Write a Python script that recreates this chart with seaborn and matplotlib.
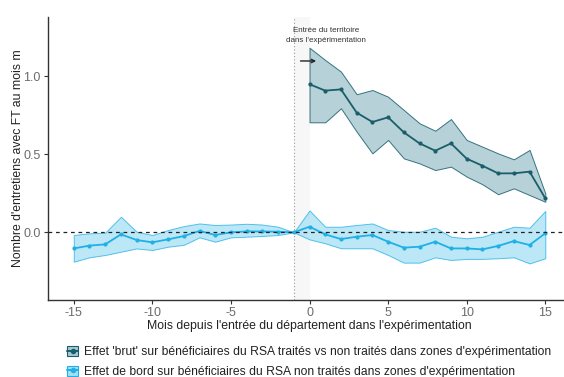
import numpy as np
import pandas as pd
import seaborn as sns
import matplotlib.pyplot as plt
from matplotlib.patches import Patch
from matplotlib.lines import Line2D

# data
mois_brut = list(range(0, 16))
effet_brut = [0.949, 0.908, 0.916, 0.767, 0.707, 0.737, 0.641, 0.570,
              0.523, 0.570, 0.472, 0.427, 0.378, 0.378, 0.389, 0.218]
brut_haut = [1.183, 1.104, 1.030, 0.885, 0.912, 0.869, 0.784, 0.699,
             0.651, 0.726, 0.592, 0.549, 0.506, 0.468, 0.528, 0.250]
brut_bas = [0.705, 0.705, 0.795, 0.645, 0.506, 0.592, 0.474, 0.442,
            0.399, 0.421, 0.357, 0.308, 0.244, 0.282, 0.239, 0.196]

mois_bord = list(range(-15, 16))
effet_bord = [-0.103, -0.085, -0.077, -0.013, -0.049, -0.064, -0.045, -0.024,
              0.009, -0.017, 0.000, 0.006, 0.006, 0.004, 0.000,
              0.036, -0.013, -0.043, -0.028, -0.017, -0.060, -0.098, -0.092,
              -0.060, -0.103, -0.103, -0.109, -0.087, -0.056, -0.081, -0.006]
bord_haut = [-0.017, -0.006, -0.002, 0.100, 0.004, -0.017, 0.015, 0.040,
             0.057, 0.047, 0.050, 0.055, 0.050, 0.036, 0.000,
             0.140, 0.036, 0.036, 0.047, 0.057, 0.015, 0.004, 0.004,
             0.030, -0.028, -0.038, -0.028, 0.004, 0.036, 0.030, 0.137]
bord_bas = [-0.188, -0.160, -0.145, -0.124, -0.103, -0.113, -0.092, -0.080,
            -0.032, -0.060, -0.032, -0.028, -0.023, -0.017, 0.000,
            -0.045, -0.070, -0.102, -0.102, -0.102, -0.145, -0.194, -0.194,
            -0.160, -0.177, -0.170, -0.170, -0.166, -0.160, -0.199, -0.166]

label_brut = "Effet 'brut' sur bénéficiaires du RSA traités vs non traités dans zones d'expérimentation"
label_bord = "Effet de bord sur bénéficiaires du RSA non traités dans zones d'expérimentation"

df_brut = pd.DataFrame({'mois': mois_brut, 'effet': effet_brut})
df_bord = pd.DataFrame({'mois': mois_bord, 'effet': effet_bord})

sns.set_style("white")
plt.rcParams['font.family'] = ['Liberation Sans', 'DejaVu Sans']

c_dark, f_dark = '#1b5e6b', '#a9c9d1'
c_light, f_light = '#1fb0e6', '#a6dff5'

fig = plt.figure(figsize=(5.64, 3.77), dpi=100)
ax = fig.add_axes([0.0848, 0.204, 0.928, 0.751])

# faint grey band between department entry and month 0
ax.axvspan(-1, 0, color='#f7f7f7', lw=0, zorder=0)
ax.axvline(-1, color='#999999', ls=(0, (1, 2)), lw=0.8, zorder=1)
ax.axhline(0, color='#222222', ls=(0, (3, 3)), lw=0.9, zorder=4)

ax.fill_between(mois_bord, bord_bas, bord_haut, color=f_light, alpha=0.75,
                edgecolor=c_light, lw=0.7, zorder=2)
ax.fill_between(mois_brut, brut_bas, brut_haut, color=f_dark, alpha=0.85,
                edgecolor=c_dark, lw=0.7, zorder=2)

sns.lineplot(data=df_bord, x='mois', y='effet', color=c_light, lw=1.3,
             marker='o', markersize=3, markeredgewidth=0, ax=ax, zorder=3)
sns.lineplot(data=df_brut, x='mois', y='effet', color=c_dark, lw=1.3,
             marker='o', markersize=3, markeredgewidth=0, ax=ax, zorder=3)

ax.set_xlim(-16.65, 16.65)
ax.set_ylim(-0.434, 1.38)
ax.set_xticks([-15, -10, -5, 0, 5, 10, 15])
ax.set_xticklabels(['-15', '-10', '-5', '0', '5', '10', '15'])
ax.set_yticks([0.0, 0.5, 1.0])
ax.set_yticklabels(['0.0', '0.5', '1.0'])
ax.tick_params(axis='both', labelsize=9, labelcolor='#6b6b6b', colors='#333333',
               length=3, width=0.8, bottom=True, left=True, pad=2)
for side in ['top', 'right']:
    ax.spines[side].set_visible(False)
for side in ['left', 'bottom']:
    ax.spines[side].set_color('#333333')
    ax.spines[side].set_linewidth(1.0)

ax.set_xlabel("Mois depuis l'entrée du département dans l'expérimentation",
              fontsize=8.8, color='#222222', labelpad=1)
ax.set_ylabel("Nombre d'entretiens avec FT au mois m", fontsize=8.8,
              color='#222222', labelpad=0)

ax.text(1.05, 1.26, "Entrée du territoire\ndans l'expérimentation",
        ha='center', va='center', fontsize=5.8, color='#333333', linespacing=1.5)
ax.annotate('', xy=(0.6, 1.098), xytext=(-0.75, 1.098),
            arrowprops=dict(arrowstyle='->', color='#222222', lw=1.0,
                            mutation_scale=6))

h_brut = (Patch(facecolor=f_dark, edgecolor=c_dark, lw=0.8),
          Line2D([], [], color=c_dark, marker='o', markersize=3, lw=1.4))
h_bord = (Patch(facecolor=f_light, edgecolor=c_light, lw=0.8),
          Line2D([], [], color=c_light, marker='o', markersize=3, lw=1.4))
fig.legend([h_brut, h_bord], [label_brut, label_bord], loc='center left',
           bbox_to_anchor=(0.1, 0.04), frameon=False, fontsize=8.7,
           handlelength=0.9, handleheight=0.9, handletextpad=0.45,
           labelspacing=0.6, labelcolor='#222222')

fig.savefig('out.png', dpi=100)
